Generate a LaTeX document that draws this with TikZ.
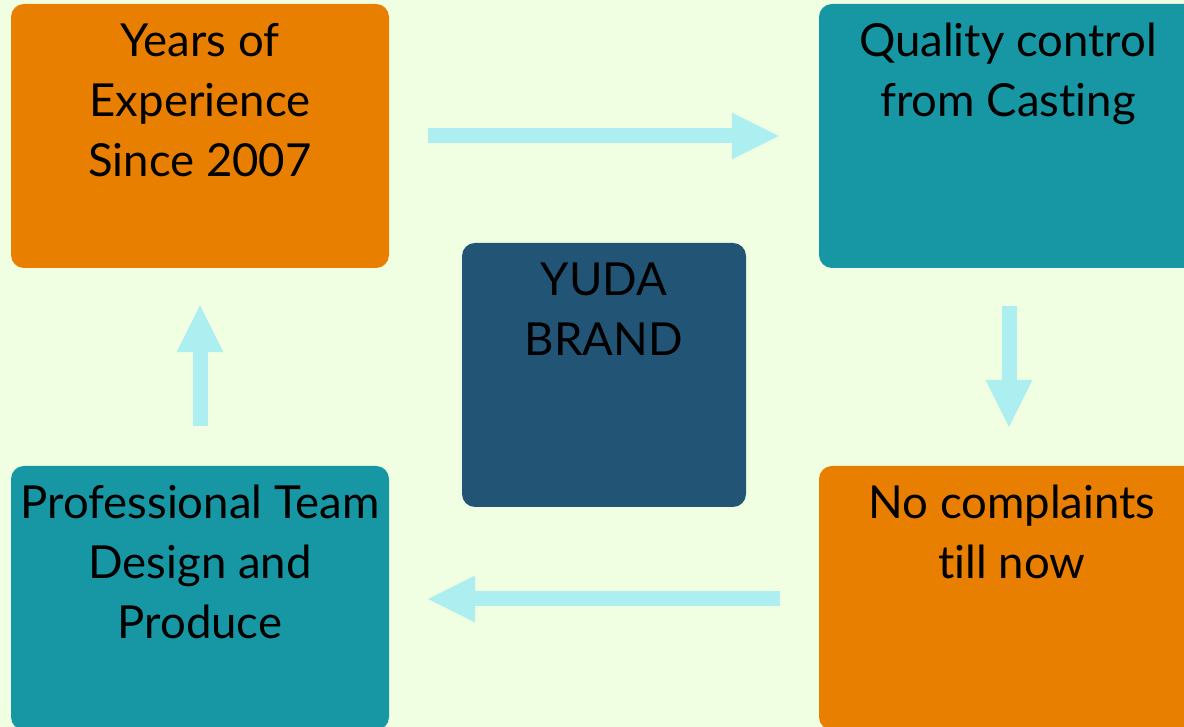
\documentclass[tikz,border=0pt]{standalone}
\usepackage{fontspec}
\setmainfont{Lato}[Ligatures=NoCommon]
\usetikzlibrary{arrows.meta}
\definecolor{bgc}{RGB}{240,254,226}
\definecolor{orangec}{RGB}{233,127,0}
\definecolor{tealc}{RGB}{23,150,163}
\definecolor{bluec}{RGB}{34,84,117}
\definecolor{arrowc}{RGB}{173,239,240}
\tikzset{
  box/.style={rectangle, rounded corners=13pt, minimum width=378pt, minimum height=264pt, inner sep=0pt, draw=none},
  boxtext/.style={anchor=base, inner sep=0pt, font=\fontsize{45.5}{60}\selectfont, text=black},
  flow/.style={draw=arrowc, line width=15pt, -{Triangle[length=47pt, width=47pt, line width=0pt]}}
}
\begin{document}
\begin{tikzpicture}[x=1pt, y=1pt]
\fill[bgc] (0,0) rectangle (1184,727);
\useasboundingbox (0,0) rectangle (1184,727);
% boxes
\node[box, fill=orangec] (b1) at (200,591) {};
\node[box, fill=tealc] (b2) at (1008,591) {};
\node[box, fill=bluec, minimum width=284pt] (b3) at (604,352) {};
\node[box, fill=orangec] (b4) at (1008,129) {};
\node[box, fill=tealc] (b5) at (200,129) {};
% texts
\node[boxtext] (t1) at ([yshift=-53pt]b1.north) {\begin{tabular}[t]{@{}c@{}}Years of\\Experience\\Since 2007\end{tabular}};
\node[boxtext] (t2) at ([yshift=-53pt]b2.north) {\begin{tabular}[t]{@{}c@{}}Quality control\\from Casting\end{tabular}};
\node[boxtext] (t3) at ([yshift=-53pt]b3.north) {\begin{tabular}[t]{@{}c@{}}YUDA\\BRAND\end{tabular}};
\node[boxtext] (t4) at ([xshift=4pt,yshift=-53pt]b4.north) {\begin{tabular}[t]{@{}c@{}}No complaints\\till now\end{tabular}};
\node[boxtext] (t5) at ([yshift=-53pt]b5.north) {\begin{tabular}[t]{@{}c@{}}Professional Team\\Design and\\Produce\end{tabular}};
% arrows
\draw[flow] ([xshift=39pt]b1.east) -- ([xshift=-40pt]b2.west);
\draw[flow] ([xshift=1pt,yshift=-38pt]b2.south) -- ([xshift=1pt,yshift=39pt]b4.north);
\draw[flow] ([xshift=-39pt,yshift=-1pt]b4.west) -- ([xshift=39pt,yshift=-1pt]b5.east);
\draw[flow] ([yshift=40pt]b5.north) -- ([yshift=-37pt]b1.south);
\end{tikzpicture}
\end{document}
